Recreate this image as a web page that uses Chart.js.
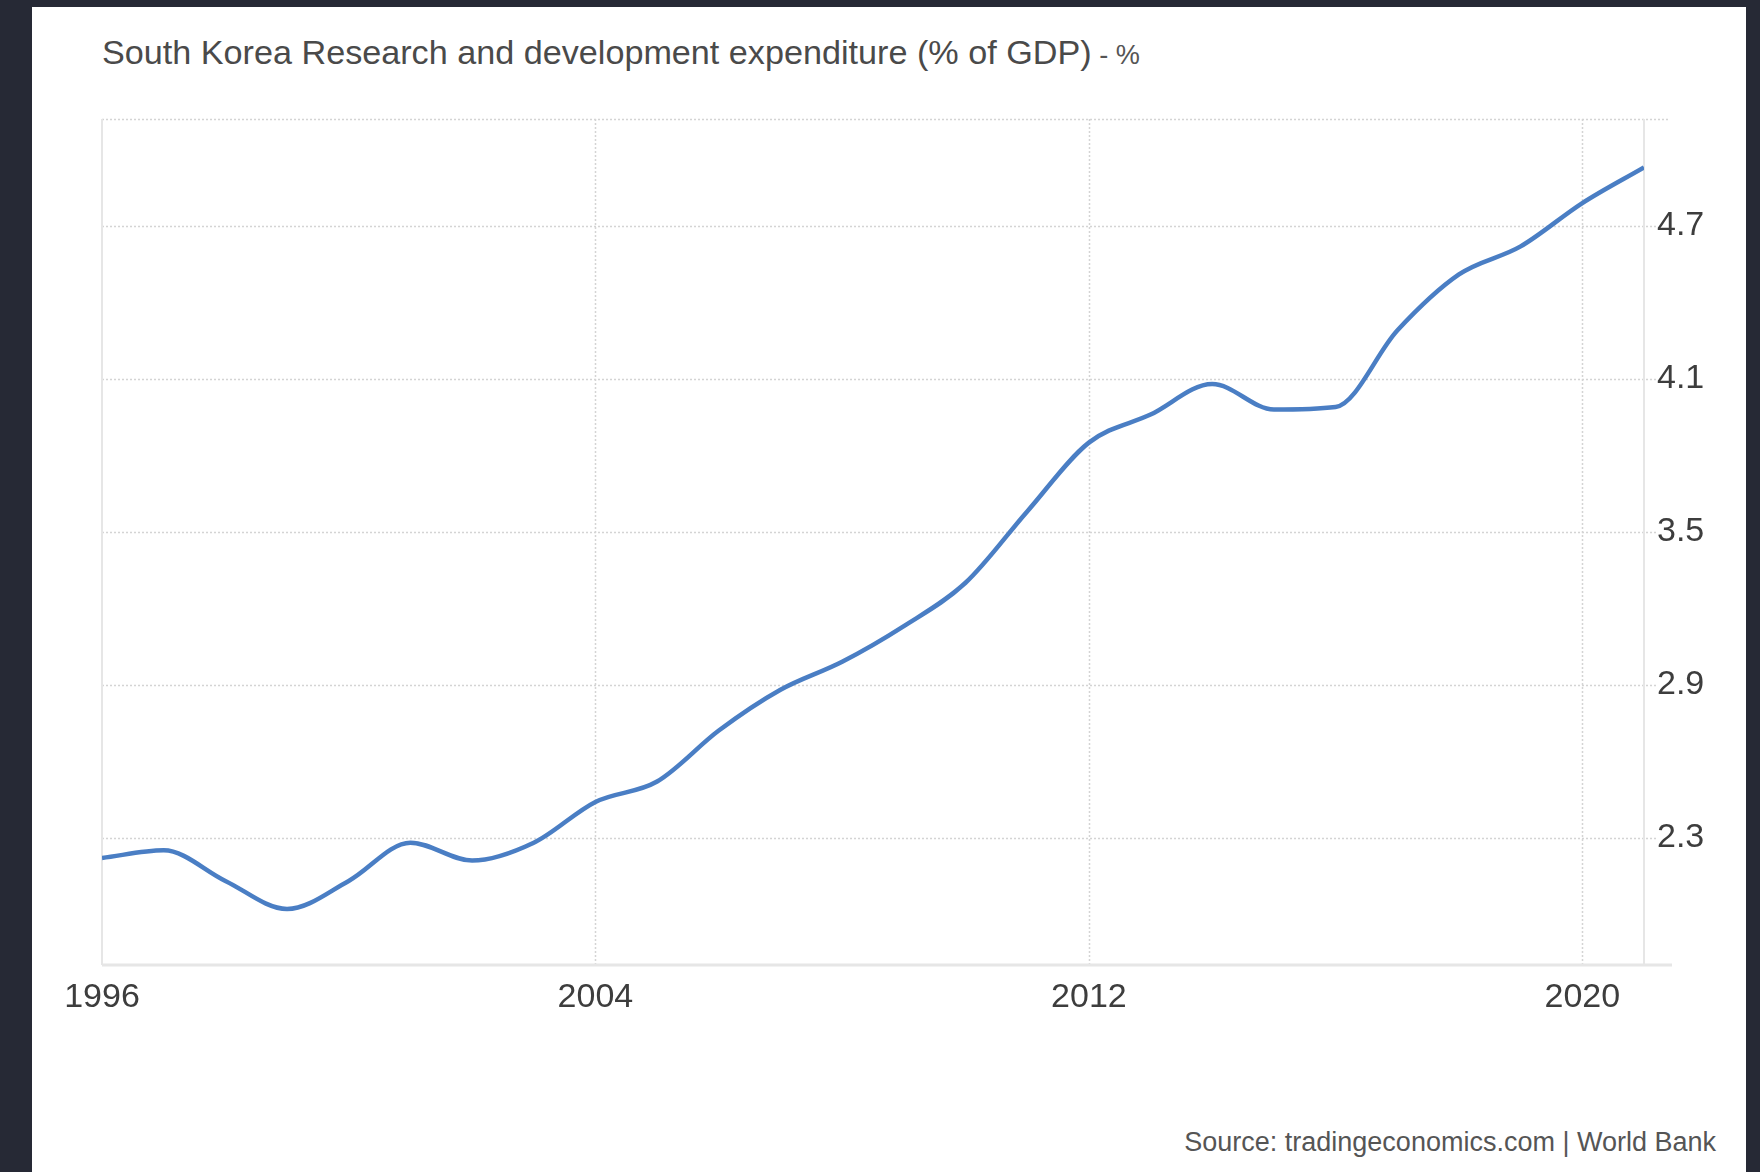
<!DOCTYPE html>
<html>
<head>
<meta charset="utf-8">
<script src="https://cdn.jsdelivr.net/npm/chart.js@4/dist/chart.umd.min.js"></script>
<style>
    html, body { margin: 0; padding: 0; }
    body { width: 1760px; height: 1172px; background: #262935; position: relative; overflow: hidden; font-family: "Liberation Sans", Arial, sans-serif; }
    .panel { position: absolute; left: 32px; top: 7px; width: 1714px; height: 1165px; background: #fff; }
    .title { position: absolute; left: 102px; top: 33px; white-space: nowrap; color: #4a4a4a; font-size: 34px; transform: scaleX(1.005); transform-origin: left top; }
    .title .unit { font-size: 27px; color: #555; }
    .source { position: absolute; right: 44px; top: 1127px; white-space: nowrap; color: #555; font-size: 27px; }
    #chartWrap { position: absolute; left: 0; top: 0; width: 1760px; height: 1172px; }
</style>
</head>
<body>
<div class="panel"></div>
<div class="title">South Korea Research and development expenditure (% of GDP)<span class="unit"> - %</span></div>
<div class="source">Source: tradingeconomics.com | World Bank</div>
<div id="chartWrap"><canvas id="rdChart" width="1760" height="1172"></canvas></div>

<script>
// 数据
const years = [1996, 1997, 1998, 1999, 2000, 2001, 2002, 2003, 2004, 2005, 2006, 2007, 2008,
               2009, 2010, 2011, 2012, 2013, 2014, 2015, 2016, 2017, 2018, 2019, 2020, 2021];
const rdValues = [2.22, 2.25, 2.13, 2.02, 2.13, 2.28, 2.21, 2.28, 2.44, 2.52, 2.72, 2.88, 2.99,
                  3.13, 3.30, 3.58, 3.85, 3.96, 4.08, 3.98, 3.99, 4.29, 4.51, 4.62, 4.79, 4.93];
const xTicks = [1996, 2004, 2012, 2020];
const yTicks = [2.3, 2.9, 3.5, 4.1, 4.7];

const LINE_COLOR = '#4a7ec4';
const GRID_COLOR = '#d4d4d4';
const BORDER_COLOR = '#e6e6e6';
const TICK_COLOR = '#3d3d3d';

let rdChart = null;

// 网格线（虚线）插件
const gridPlugin = {
    id: 'dottedGrid',
    beforeDatasetsDraw(chart) {
        const { ctx, chartArea, scales } = chart;
        const { left, right, top, bottom } = chartArea;
        ctx.save();

        // 水平虚线
        ctx.strokeStyle = GRID_COLOR;
        ctx.lineWidth = 1.5;
        ctx.setLineDash([2, 2]);
        yTicks.forEach(v => {
            const y = Math.round(scales.y.getPixelForValue(v)) + 0.5;
            ctx.beginPath();
            ctx.moveTo(left, y);
            ctx.lineTo(right + 13, y);
            ctx.stroke();
        });
        ctx.beginPath();
        ctx.moveTo(left, top + 0.5);
        ctx.lineTo(right + 26, top + 0.5);
        ctx.stroke();

        // 垂直虚线
        xTicks.slice(1).forEach(v => {
            const x = Math.round(scales.x.getPixelForValue(v)) + 0.5;
            ctx.beginPath();
            ctx.moveTo(x, top);
            ctx.lineTo(x, bottom);
            ctx.stroke();
        });

        // 边框实线
        ctx.setLineDash([]);
        ctx.strokeStyle = BORDER_COLOR;
        ctx.lineWidth = 2;
        [years[0], years[years.length - 1]].forEach(v => {
            const x = Math.round(scales.x.getPixelForValue(v));
            ctx.beginPath();
            ctx.moveTo(x, top);
            ctx.lineTo(x, bottom);
            ctx.stroke();
        });
        ctx.lineWidth = 3;
        ctx.beginPath();
        ctx.moveTo(left, bottom);
        ctx.lineTo(right + 28, bottom);
        ctx.stroke();

        ctx.restore();
    }
};

// 创建图表
function createChart() {
    const ctx = document.getElementById('rdChart').getContext('2d');
    rdChart = new Chart(ctx, {
        type: 'line',
        data: {
            datasets: [{
                data: years.map((yr, i) => ({ x: yr, y: rdValues[i] })),
                borderColor: LINE_COLOR,
                borderWidth: 4.5,
                pointRadius: 0,
                cubicInterpolationMode: 'monotone',
                fill: false
            }]
        },
        options: {
            responsive: false,
            animation: false,
            layout: { padding: { left: 102, top: 119, right: 0, bottom: 0 } },
            plugins: { legend: { display: false }, tooltip: { enabled: false } },
            scales: {
                x: {
                    type: 'linear',
                    min: 1996,
                    max: 2021,
                    grid: { display: false },
                    border: { display: false },
                    afterBuildTicks: scale => { scale.ticks = xTicks.map(v => ({ value: v })); },
                    afterFit: scale => { scale.height = 1172 - 965; },
                    ticks: {
                        color: TICK_COLOR,
                        padding: 4,
                        maxRotation: 0,
                        font: { family: '"Liberation Sans", Arial, sans-serif', size: 34 },
                        callback: v => String(v)
                    }
                },
                y: {
                    position: 'right',
                    min: 1.8,
                    max: 5.12,
                    grid: { display: false },
                    border: { display: false },
                    afterBuildTicks: scale => { scale.ticks = yTicks.map(v => ({ value: v })); },
                    afterFit: scale => { scale.width = 1760 - 1644; },
                    ticks: {
                        color: TICK_COLOR,
                        padding: 5,
                        font: { family: '"Liberation Sans", Arial, sans-serif', size: 34 },
                        callback: v => v.toFixed(1)
                    }
                }
            }
        },
        plugins: [gridPlugin]
    });
}

document.addEventListener('DOMContentLoaded', createChart);
</script>
</body>
</html>
